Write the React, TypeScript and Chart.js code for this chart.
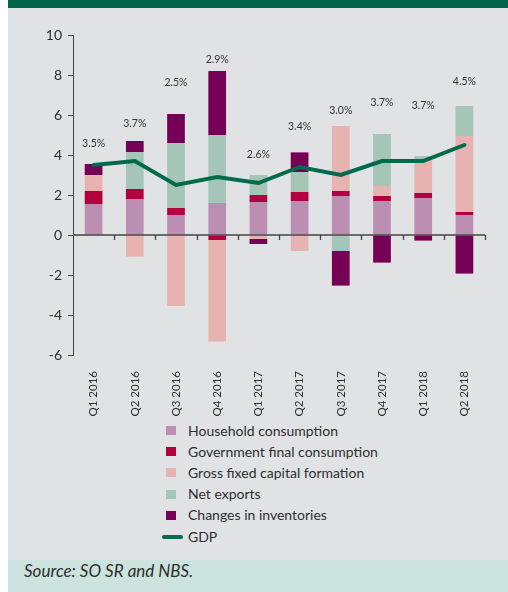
import React, { useEffect, useRef } from "react";
import { Chart, registerables } from "chart.js";

Chart.register(...registerables);

const categories = ["Q1 2016", "Q2 2016", "Q3 2016", "Q4 2016", "Q1 2017", "Q2 2017", "Q3 2017", "Q4 2017", "Q1 2018", "Q2 2018"];
const household = [1.55, 1.8, 1.0, 1.6, 1.65, 1.7, 1.95, 1.7, 1.85, 1.0];
const government = [0.65, 0.5, 0.35, -0.25, 0.35, 0.45, 0.25, 0.25, 0.25, 0.15];
const gfcf = [0.8, -1.08, -3.55, -5.08, -0.2, -0.8, 3.25, 0.5, 1.65, 3.8];
const netExports = [0, 1.85, 3.25, 3.4, 1.0, 1.0, -0.8, 2.6, 0.2, 1.5];
const inventories = [0.55, 0.55, 1.45, 3.2, -0.25, 0.98, -1.73, -1.38, -0.28, -1.93];
const gdp = [3.5, 3.7, 2.5, 2.9, 2.6, 3.4, 3.0, 3.7, 3.7, 4.5];
const gdpLabels = ["3.5%", "3.7%", "2.5%", "2.9%", "2.6%", "3.4%", "3.0%", "3.7%", "3.7%", "4.5%"];
const gdpLabelLevels = [4.55, 5.55, 7.6, 8.75, 4.0, 5.4, 6.2, 6.6, 6.45, 7.65];
const yTicks = [-6, -4, -2, 0, 2, 4, 6, 8, 10];

const seriesNames = ["Household consumption", "Government final consumption", "Gross fixed capital formation", "Net exports", "Changes in inventories", "GDP"];
const seriesColors = ["#bc8fb2", "#b3003f", "#e6b3b1", "#a4c5b8", "#770057", "#006a4d"];

const FONT = "Lato, 'Open Sans', sans-serif";
const TEXT = "#2e2e2e";

const overlayPlugin = {
  id: "overlay",
  afterDatasetsDraw(chart: any) {
    const { ctx, chartArea, scales } = chart;
    const x = scales.x;
    const y = scales.y;
    const y0 = y.getPixelForValue(0);
    const step = x.getPixelForValue(1) - x.getPixelForValue(0);
    ctx.save();
    ctx.strokeStyle = "#444444";
    ctx.lineWidth = 1.3;
    ctx.beginPath();
    ctx.moveTo(chartArea.left, y0);
    ctx.lineTo(chartArea.right, y0);
    for (let i = 1; i <= categories.length; i++) {
      const px = Math.round(x.getPixelForValue(i - 1) + step / 2) + 0.5;
      ctx.moveTo(px, y0);
      ctx.lineTo(px, y0 + 5);
    }
    ctx.stroke();
    ctx.fillStyle = "#333333";
    ctx.font = "10.5px " + FONT;
    ctx.textAlign = "center";
    ctx.textBaseline = "middle";
    gdpLabels.forEach((t, i) => {
      ctx.fillText(t, x.getPixelForValue(i), y.getPixelForValue(gdpLabelLevels[i]));
    });
    ctx.restore();
  },
};

function ChartCanvas() {
  const ref = useRef<HTMLCanvasElement | null>(null);
  useEffect(() => {
    if (!ref.current) return;
    const barData = [household, government, gfcf, netExports, inventories];
    const datasets: any[] = barData.map((d, i) => ({
      type: "bar",
      label: seriesNames[i],
      data: d,
      backgroundColor: seriesColors[i],
      borderWidth: 0,
      barPercentage: 0.43,
      categoryPercentage: 1,
      order: 1,
    }));
    datasets.push({
      type: "line",
      label: seriesNames[5],
      data: gdp,
      borderColor: seriesColors[5],
      borderWidth: 4,
      pointRadius: 0,
      tension: 0,
      borderCapStyle: "round",
      borderJoinStyle: "miter",
      order: 0,
    });
    const chart = new Chart(ref.current, {
      type: "bar",
      data: { labels: categories, datasets },
      options: {
        animation: false,
        responsive: false,
        maintainAspectRatio: false,
        layout: { padding: { top: 27, right: 23, left: 0, bottom: 0 } },
        plugins: { legend: { display: false }, tooltip: { enabled: false } },
        scales: {
          x: {
            stacked: true,
            offset: true,
            grid: { display: false },
            border: { display: false },
            ticks: {
              autoSkip: false,
              minRotation: 90,
              maxRotation: 90,
              padding: 8,
              color: TEXT,
              font: { family: FONT, size: 11.5 },
            },
            afterFit(scale: any) {
              scale.height = 65;
            },
          },
          y: {
            stacked: true,
            min: -6,
            max: 10,
            afterBuildTicks(scale: any) {
              scale.ticks = yTicks.map((v) => ({ value: v }));
            },
            grid: { display: true, drawOnChartArea: false, drawTicks: true, tickLength: 5, color: "#444444", lineWidth: 1 },
            border: { display: true, color: "#444444", width: 1 },
            ticks: {
              padding: 6,
              color: TEXT,
              font: { family: FONT, size: 14 },
              callback: (v: any) => String(v),
            },
            afterFit(scale: any) {
              scale.width = 65;
            },
          },
        },
      },
      plugins: [overlayPlugin],
    });
    return () => chart.destroy();
  }, []);
  return <canvas ref={ref} width={500} height={412} style={{ position: "absolute", left: 0, top: 8, width: 500, height: 412 }} />;
}

export default function App() {
  return (
    <div style={{ position: "absolute", left: 8, top: 0, width: 500, height: 592, fontFamily: FONT, overflow: "hidden" }}>
      <div style={{ position: "absolute", left: 0, top: 0, width: 500, height: 8, background: "#00664a" }} />
      <div style={{ position: "absolute", left: 0, top: 8, width: 500, height: 552, background: "#e1e2e4" }} />
      <ChartCanvas />
      <div style={{ position: "absolute", left: 154, top: 420, display: "flex", flexDirection: "column" }}>
        {seriesNames.map((name, i) => (
          <div key={name} style={{ height: 21.2, display: "flex", alignItems: "center" }}>
            <div style={{ width: 22, display: "flex" }}>
              {i === 5 ? (
                <div style={{ width: 21, height: 4, borderRadius: 2, background: seriesColors[i] }} />
              ) : (
                <div style={{ marginLeft: 4, width: 10, height: 9, background: seriesColors[i] }} />
              )}
            </div>
            <span style={{ marginLeft: 4, fontSize: 14, color: TEXT, lineHeight: "16px" }}>{name}</span>
          </div>
        ))}
      </div>
      <div style={{ position: "absolute", left: 0, top: 560, width: 500, height: 32, background: "#cce4dd" }}>
        <span style={{ position: "absolute", left: 16, top: 1, fontSize: 17, fontStyle: "italic", color: TEXT, lineHeight: "20px" }}>
          Source: SO SR and NBS.
        </span>
      </div>
    </div>
  );
}
